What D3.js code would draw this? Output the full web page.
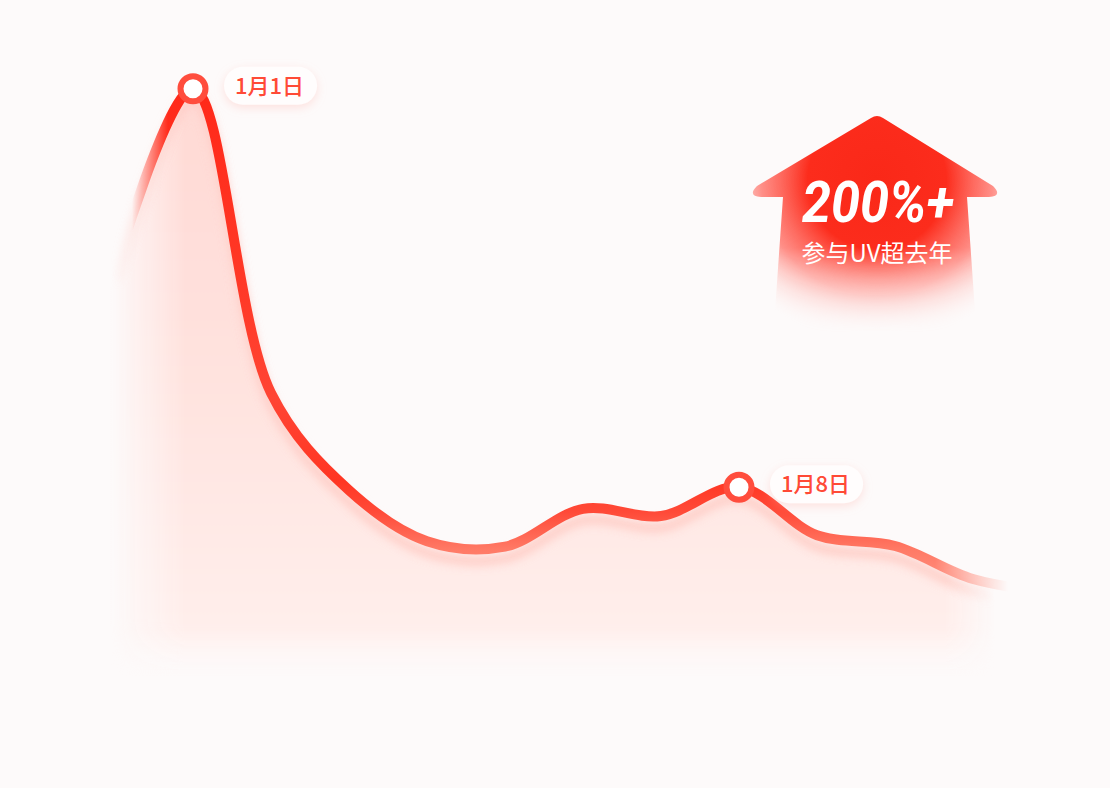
<!DOCTYPE html>
<html>
<head>
<meta charset="utf-8">
<script src="https://cdn.jsdelivr.net/npm/d3@7"></script>
<style>
  html, body { margin: 0; padding: 0; background: #fdfafa; }
  svg { display: block; }
</style>
</head>
<body>
<svg id="chart" width="1110" height="788"></svg>
<script>
// data (daily UV, arbitrary units)
var dates = ["12月31日", "1月1日", "1月2日", "1月3日", "1月4日", "1月5日", "1月6日",
             "1月7日", "1月8日", "1月9日", "1月10日", "1月11日", "1月12日"];
var uv = [65, 95.2, 44.5, 28.3, 19.8, 18.9, 25.2, 24.0, 28.8, 20.8, 19.0, 13.5, 11.3];
var labelDates = ["1月1日", "1月8日"];
var badgeValue = "200%+";
var badgeText = "参与UV超去年";

var svg = d3.select("#chart"),
    width = +svg.attr("width"),
    height = +svg.attr("height");

var x = d3.scalePoint().domain(dates).range([115, 1051]);
var y = d3.scaleLinear().domain([0, 100]).range([660, 60]);

var data = dates.map(function (d, i) { return { date: d, value: uv[i] }; });

var defs = svg.append("defs");

// background
svg.append("rect").attr("width", width).attr("height", height).attr("fill", "#fdfafa");

// line stroke gradient (vertical)
var lg = defs.append("linearGradient").attr("id", "lineGrad")
    .attr("gradientUnits", "userSpaceOnUse").attr("x1", 0).attr("x2", 0).attr("y1", 80).attr("y2", 600);
[[80, "#ff2818"], [300, "#ff3a28"], [400, "#ff4534"], [480, "#ff3522"], [512, "#ff4a38"],
 [550, "#ff7a66"], [600, "#ff9a8c"]].forEach(function (s) {
    lg.append("stop").attr("offset", (s[0] - 80) / 520).attr("stop-color", s[1]);
});

// area fill gradient (vertical)
var ag = defs.append("linearGradient").attr("id", "areaGrad")
    .attr("gradientUnits", "userSpaceOnUse").attr("x1", 0).attr("x2", 0).attr("y1", 80).attr("y2", 680);
ag.append("stop").attr("offset", 0).attr("stop-color", "#ffd9d4");
ag.append("stop").attr("offset", 0.5).attr("stop-color", "#ffe3df");
ag.append("stop").attr("offset", 0.9).attr("stop-color", "#ffeeeb");
ag.append("stop").attr("offset", 0.98).attr("stop-color", "#fdfafa").attr("stop-opacity", 0);

// horizontal fade masks
function hMask(id, a, b, c, d) {
    var g = defs.append("linearGradient").attr("id", id + "G")
        .attr("gradientUnits", "userSpaceOnUse").attr("x1", 0).attr("x2", width).attr("y1", 0).attr("y2", 0);
    g.append("stop").attr("offset", a / width).attr("stop-color", "#000");
    g.append("stop").attr("offset", b / width).attr("stop-color", "#fff");
    g.append("stop").attr("offset", c / width).attr("stop-color", "#fff");
    g.append("stop").attr("offset", d / width).attr("stop-color", "#000");
    defs.append("mask").attr("id", id).attr("maskUnits", "userSpaceOnUse")
        .attr("x", 0).attr("y", 0).attr("width", width).attr("height", height)
        .append("rect").attr("width", width).attr("height", height).attr("fill", "url(#" + id + "G)");
}
hMask("areaMask", 110, 185, 945, 995);
hMask("lineMask", 132, 168, 935, 1008);

defs.append("filter").attr("id", "blurArea").attr("x", "-20%").attr("y", "-20%").attr("width", "140%").attr("height", "140%")
    .append("feGaussianBlur").attr("stdDeviation", 7);
defs.append("filter").attr("id", "blurShadow").attr("x", "-20%").attr("y", "-20%").attr("width", "140%").attr("height", "140%")
    .append("feGaussianBlur").attr("stdDeviation", 5);

var pillF = defs.append("filter").attr("id", "pillShadow").attr("x", "-40%").attr("y", "-60%").attr("width", "180%").attr("height", "220%");
pillF.append("feDropShadow").attr("dx", 0).attr("dy", 3).attr("stdDeviation", 5)
    .attr("flood-color", "#ffb4aa").attr("flood-opacity", 0.35);

var curve = d3.curveCatmullRom.alpha(0.5);

var area = d3.area()
    .x(function (d) { return x(d.date); })
    .y0(690)
    .y1(function (d) { return y(d.value); })
    .curve(curve);

var line = d3.line()
    .x(function (d) { return x(d.date); })
    .y(function (d) { return y(d.value); })
    .curve(curve);

// area under curve
svg.append("g").attr("mask", "url(#areaMask)")
    .append("path")
    .datum(data)
    .attr("d", area)
    .attr("transform", "translate(0,10)")
    .attr("fill", "url(#areaGrad)")
    .attr("filter", "url(#blurArea)");

// soft shadow below the line
svg.append("g").attr("mask", "url(#areaMask)")
    .append("path")
    .datum(data)
    .attr("d", line)
    .attr("transform", "translate(0,11)")
    .attr("fill", "none")
    .attr("stroke", "#ffbdb4")
    .attr("stroke-width", 10)
    .attr("opacity", 0.7)
    .attr("filter", "url(#blurShadow)");

// main line
svg.append("g").attr("mask", "url(#lineMask)")
    .append("path")
    .datum(data)
    .attr("d", line)
    .attr("fill", "none")
    .attr("stroke", "url(#lineGrad)")
    .attr("stroke-width", 10)
    .attr("stroke-linecap", "round")
    .attr("stroke-linejoin", "round");

// markers + labels
var marks = data.filter(function (d) { return labelDates.indexOf(d.date) >= 0; });

var mg = svg.append("g").selectAll("g").data(marks).enter().append("g")
    .attr("transform", function (d) { return "translate(" + x(d.date) + "," + y(d.value) + ")"; });

mg.append("rect").attr("class", "pill")
    .attr("y", -22).attr("height", 38).attr("rx", 19).attr("ry", 19)
    .attr("fill", "#fffdfd")
    .attr("filter", "url(#pillShadow)");

mg.append("text")
    .attr("x", 42).attr("y", 5)
    .attr("font-family", "'Noto Sans CJK SC', 'Noto Sans', sans-serif")
    .attr("font-size", 22)
    .attr("font-weight", 500)
    .attr("fill", "#ff4a36")
    .text(function (d) { return d.date; });

mg.each(function () {
    var g = d3.select(this);
    var w = g.select("text").node().getComputedTextLength();
    g.select("rect.pill").attr("x", 31).attr("width", w + 24);
});

mg.append("circle")
    .attr("r", 12.5)
    .attr("fill", "#fff")
    .attr("stroke", "#ff4d3d")
    .attr("stroke-width", 6);

// badge arrow
var bx = 877;
var rg = defs.append("radialGradient").attr("id", "badgeGrad")
    .attr("gradientUnits", "userSpaceOnUse").attr("cx", bx).attr("cy", 180).attr("r", 165);
rg.append("stop").attr("offset", 0).attr("stop-color", "#fa2818");
rg.append("stop").attr("offset", 0.42).attr("stop-color", "#fc2c1c");
rg.append("stop").attr("offset", 0.7).attr("stop-color", "#ff6a60").attr("stop-opacity", 0.75);
rg.append("stop").attr("offset", 1).attr("stop-color", "#ffb0a8").attr("stop-opacity", 0);

var bm = defs.append("linearGradient").attr("id", "badgeMaskG")
    .attr("gradientUnits", "userSpaceOnUse").attr("x1", 0).attr("x2", 0).attr("y1", 110).attr("y2", 340);
bm.append("stop").attr("offset", 0).attr("stop-color", "#fff");
bm.append("stop").attr("offset", 0.6).attr("stop-color", "#fff");
bm.append("stop").attr("offset", 0.97).attr("stop-color", "#000");
defs.append("mask").attr("id", "badgeMask").attr("maskUnits", "userSpaceOnUse")
    .attr("x", 0).attr("y", 0).attr("width", width).attr("height", height)
    .append("rect").attr("width", width).attr("height", height).attr("fill", "url(#badgeMaskG)");

var p = d3.path();
p.moveTo(bx - 6, 118);
p.quadraticCurveTo(bx, 114, bx + 6, 118);
p.lineTo(bx + 116, 186);
p.quadraticCurveTo(bx + 126, 196, bx + 112, 197);
p.lineTo(bx + 90, 197);
p.lineTo(bx + 100, 340);
p.lineTo(bx - 104, 340);
p.lineTo(bx - 94, 197);
p.lineTo(bx - 116, 197);
p.quadraticCurveTo(bx - 130, 196, bx - 120, 186);
p.closePath();

svg.append("path")
    .attr("d", p.toString())
    .attr("fill", "url(#badgeGrad)")
    .attr("mask", "url(#badgeMask)");

svg.append("text")
    .attr("x", 802).attr("y", 222)
    .attr("font-family", "Roboto, 'DejaVu Sans', sans-serif")
    .attr("font-size", 58)
    .attr("font-weight", 700)
    .attr("font-style", "italic")
    .attr("fill", "#fff")
    .attr("textLength", 152)
    .attr("lengthAdjust", "spacingAndGlyphs")
    .text(badgeValue);

svg.append("text")
    .attr("x", bx).attr("y", 262)
    .attr("text-anchor", "middle")
    .attr("font-family", "'Noto Sans CJK SC', sans-serif")
    .attr("font-size", 24)
    .attr("font-weight", 400)
    .attr("fill", "#fff")
    .text(badgeText);
</script>
</body>
</html>
